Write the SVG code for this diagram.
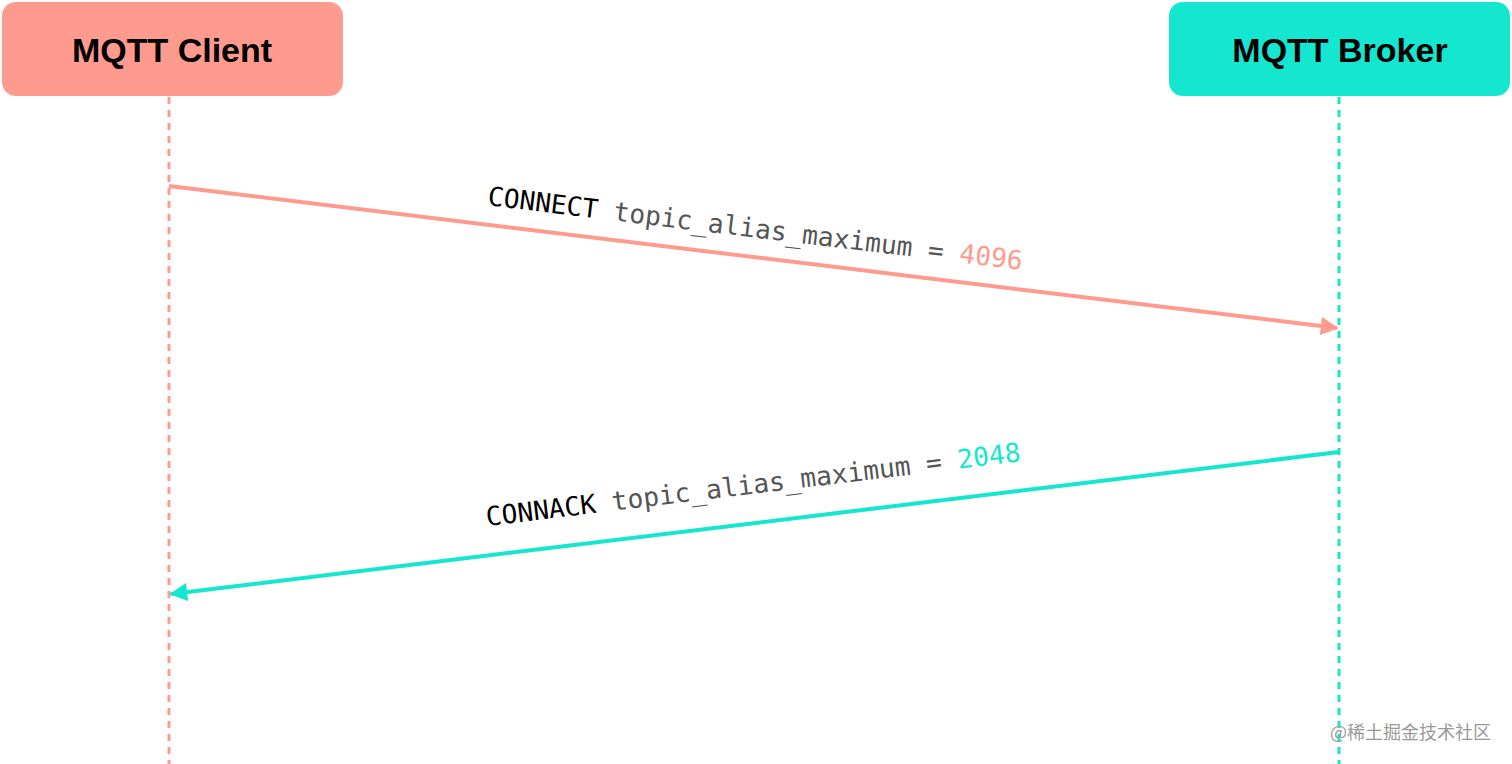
<svg xmlns="http://www.w3.org/2000/svg" width="1512" height="764" viewBox="0 0 1512 764">
<style>
.box-text{font-family:"Liberation Sans",Arial,sans-serif;font-size:34px;font-weight:bold;fill:#000;text-anchor:middle}
.lbl{font-family:"DejaVu Sans Mono","Liberation Mono",monospace;font-size:26.3px}
.kw{fill:#000}
.param{fill:#555}
.life{stroke-width:3;stroke-dasharray:7 6;fill:none}
.msg{stroke-width:4;fill:none}
</style>
<defs>
<marker id="arrS" viewBox="0 0 10 10" refX="9" refY="5" markerWidth="5.5" markerHeight="4.5" orient="auto" markerUnits="strokeWidth"><path d="M0,0 L10,5 L0,10 z" fill="#FF9A8F"/></marker>
<marker id="arrT" viewBox="0 0 10 10" refX="9" refY="5" markerWidth="5.5" markerHeight="4.5" orient="auto" markerUnits="strokeWidth"><path d="M0,0 L10,5 L0,10 z" fill="#15E6CF"/></marker>
</defs>
<g id="client">
<rect x="2" y="2" width="341" height="94" rx="14" fill="#FF9A8F"/>
<text class="box-text" x="172" y="62">MQTT Client</text>
</g>
<g id="broker">
<rect x="1169" y="2" width="341" height="94" rx="14" fill="#15E6CF"/>
<text class="box-text" x="1340" y="62">MQTT Broker</text>
</g>
<g id="connectors">
<line class="life" x1="169" y1="97" x2="169" y2="764" stroke="#FF9A8F"/>
<line class="life" x1="1339" y1="97" x2="1339" y2="764" stroke="#15E6CF"/>
<line class="msg" x1="169" y1="186" x2="1337" y2="328" stroke="#FF9A8F" marker-end="url(#arrS)"/>
<line class="msg" x1="1339" y1="452" x2="171" y2="594" stroke="#15E6CF" marker-end="url(#arrT)"/>
</g>
<g id="label-connect">
<text class="lbl" x="487" y="205" transform="rotate(6.92 487 205)"><tspan class="kw">CONNECT</tspan><tspan class="param"> topic_alias_maximum = </tspan><tspan fill="#FF9A8F">4096</tspan></text>
</g>
<g id="label-connack">
<text class="lbl" x="487" y="526" transform="rotate(-6.92 487 526)"><tspan class="kw">CONNACK</tspan><tspan class="param"> topic_alias_maximum = </tspan><tspan fill="#15E6CF">2048</tspan></text>
</g>
<text x="1330" y="739" font-family="'Noto Sans CJK SC',sans-serif" font-size="18" fill="#999">@稀土掘金技术社区</text>
</svg>
